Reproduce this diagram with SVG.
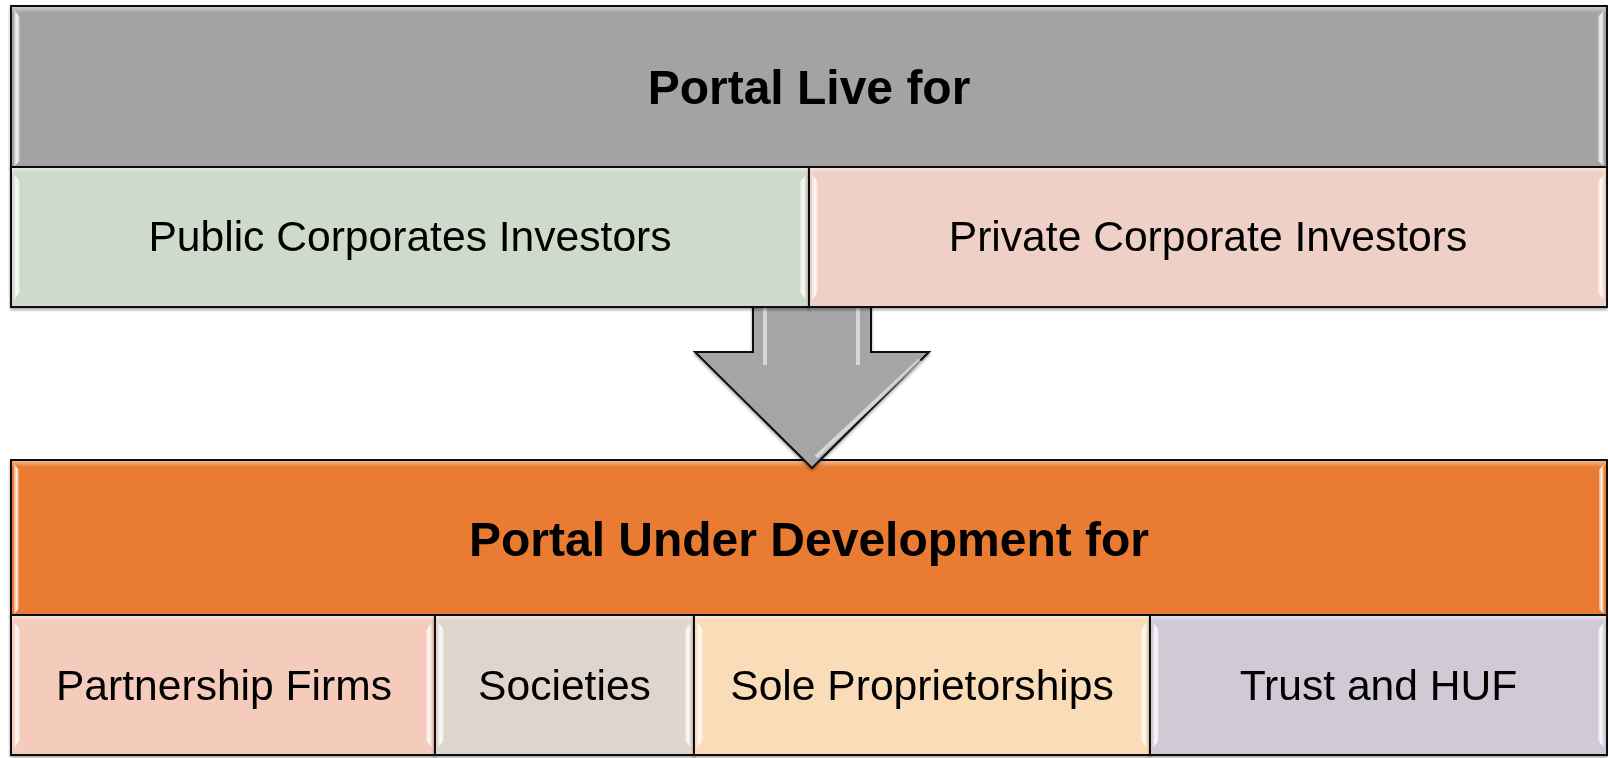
<svg xmlns="http://www.w3.org/2000/svg" width="1608" height="758" viewBox="0 0 1608 758">
  <defs>
    <linearGradient id="bl" x1="0" y1="0" x2="1" y2="0">
      <stop offset="0" stop-color="#fff" stop-opacity="0.35"/>
      <stop offset="0.5" stop-color="#fff" stop-opacity="0.9"/>
      <stop offset="1" stop-color="#fff" stop-opacity="0.2"/>
    </linearGradient>
    <linearGradient id="bt" x1="0" y1="0" x2="0" y2="1">
      <stop offset="0" stop-color="#fff" stop-opacity="0.45"/>
      <stop offset="1" stop-color="#fff" stop-opacity="0"/>
    </linearGradient>
    <filter id="sh" x="-5%" y="-5%" width="110%" height="120%">
      <feDropShadow dx="0" dy="2" stdDeviation="1.5" flood-color="#000" flood-opacity="0.35"/>
    </filter>
  </defs>
  <style>
    .box { stroke: #111; stroke-width: 2; }
    .bev { fill: url(#bl); }
    .top { fill: url(#bt); }
    .hdr { font-family: "Liberation Sans", Arial, sans-serif; font-weight: bold; font-size: 48px; fill: #000; text-anchor: middle; }
    .lbl { font-family: "Liberation Sans", Arial, sans-serif; font-size: 42.6px; fill: #000; text-anchor: middle; }
    .hl { stroke: #fff; stroke-opacity: 0.55; stroke-width: 4; fill: none; }
  </style>

  <rect width="1608" height="758" fill="#fff"/>

  <!-- Bottom block -->
  <g id="node-under-development" filter="url(#sh)">
    <rect class="box" x="11" y="460" width="1596" height="155" fill="#E97C30"/>
    <rect class="top" x="12" y="461" width="1594" height="6"/>
    <polygon class="bev" points="14,464 19,470 19,609 14,614"/>
    <polygon class="bev" points="1604,464 1599,470 1599,609 1604,614"/>
    <text class="hdr" x="809" y="556">Portal Under Development for</text>
  </g>
  <g id="node-partnership" filter="url(#sh)">
    <rect class="box" x="11" y="615" width="424" height="140" fill="#F5CBBB"/>
    <rect class="top" x="12" y="616" width="422" height="5"/>
    <polygon class="bev" points="14,622 20,630 20,740 14,748"/>
    <polygon class="bev" points="432,622 426,630 426,740 432,748"/>
    <text class="lbl" x="224" y="700">Partnership Firms</text>
  </g>
  <g id="node-societies" filter="url(#sh)">
    <rect class="box" x="435" y="615" width="259" height="140" fill="#DFD5CD"/>
    <rect class="top" x="436" y="616" width="257" height="5"/>
    <polygon class="bev" points="438,622 444,630 444,740 438,748"/>
    <polygon class="bev" points="691,622 685,630 685,740 691,748"/>
    <text class="lbl" x="564.5" y="700">Societies</text>
  </g>
  <g id="node-sole" filter="url(#sh)">
    <rect class="box" x="694" y="615" width="456" height="140" fill="#FADCB8"/>
    <rect class="top" x="695" y="616" width="454" height="5"/>
    <polygon class="bev" points="697,622 703,630 703,740 697,748"/>
    <polygon class="bev" points="1147,622 1141,630 1141,740 1147,748"/>
    <text class="lbl" x="922" y="700">Sole Proprietorships</text>
  </g>
  <g id="node-trust" filter="url(#sh)">
    <rect class="box" x="1150" y="615" width="457" height="140" fill="#D0CAD6"/>
    <rect class="top" x="1151" y="616" width="455" height="5"/>
    <polygon class="bev" points="1153,622 1159,630 1159,740 1153,748"/>
    <polygon class="bev" points="1604,622 1598,630 1598,740 1604,748"/>
    <text class="lbl" x="1378.5" y="700">Trust and HUF</text>
  </g>

  <!-- Connector: block arrow -->
  <g id="connectors">
    <g id="arrow-live-to-dev" filter="url(#sh)">
      <polygon points="753,300 871,300 871,352 929,352 812,468 695,352 753,352" fill="#A5A5A5" stroke="#111" stroke-width="2" stroke-linejoin="miter"/>
      <line class="hl" x1="765" y1="307" x2="765" y2="365"/>
      <line class="hl" x1="858" y1="307" x2="858" y2="365"/>
      <line class="hl" x1="920" y1="360" x2="816" y2="457"/>
    </g>
  </g>

  <!-- Top block -->
  <g id="node-live" filter="url(#sh)">
    <rect class="box" x="11" y="6" width="1596" height="161" fill="#A3A3A3"/>
    <rect class="top" x="12" y="7" width="1594" height="6"/>
    <polygon class="bev" points="14,10 20,17 20,161 14,166"/>
    <polygon class="bev" points="1604,10 1598,17 1598,161 1604,166"/>
    <text class="hdr" x="809" y="104">Portal Live for</text>
  </g>
  <g id="node-public" filter="url(#sh)">
    <rect class="box" x="11" y="167" width="798" height="140" fill="#CFDBCA"/>
    <rect class="top" x="12" y="168" width="796" height="5"/>
    <polygon class="bev" points="14,174 20,182 20,292 14,300"/>
    <polygon class="bev" points="806,174 800,182 800,292 806,300"/>
    <text class="lbl" x="410" y="251">Public Corporates Investors</text>
  </g>
  <g id="node-private" filter="url(#sh)">
    <rect class="box" x="809" y="167" width="798" height="140" fill="#EFD0C6"/>
    <rect class="top" x="810" y="168" width="796" height="5"/>
    <polygon class="bev" points="812,174 818,182 818,292 812,300"/>
    <polygon class="bev" points="1604,174 1598,182 1598,292 1604,300"/>
    <text class="lbl" x="1208" y="251">Private Corporate Investors</text>
  </g>
</svg>
